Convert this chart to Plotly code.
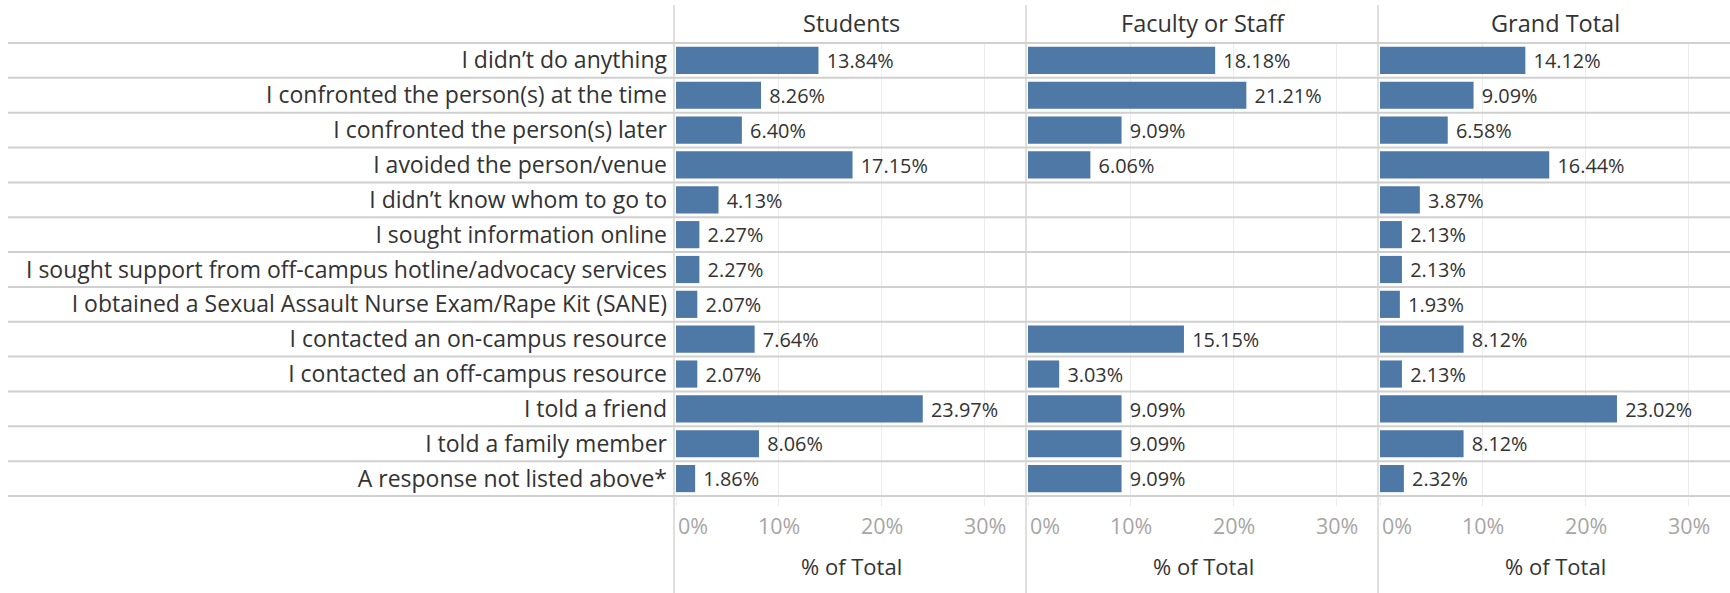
import plotly.graph_objects as go

categories = [
    "I didn’t do anything",
    "I confronted the person(s) at the time",
    "I confronted the person(s) later",
    "I avoided the person/venue",
    "I didn’t know whom to go to",
    "I sought information online",
    "I sought support from off-campus hotline/advocacy services",
    "I obtained a Sexual Assault Nurse Exam/Rape Kit (SANE)",
    "I contacted an on-campus resource",
    "I contacted an off-campus resource",
    "I told a friend",
    "I told a family member",
    "A response not listed above*",
]
students = [13.84, 8.26, 6.40, 17.15, 4.13, 2.27, 2.27, 2.07, 7.64, 2.07, 23.97, 8.06, 1.86]
faculty = [18.18, 21.21, 9.09, 6.06, None, None, None, None, 15.15, 3.03, 9.09, 9.09, 9.09]
grand_total = [14.12, 9.09, 6.58, 16.44, 3.87, 2.13, 2.13, 1.93, 8.12, 2.13, 23.02, 8.12, 2.32]
panel_titles = ["Students", "Faculty or Staff", "Grand Total"]
tick_vals = [0, 10, 20, 30]
tick_text = ["0%", "10%", "20%", "30%"]
axis_title = "% of Total"

W, H = 1730, 593
FONT = "Open Sans"
BAR = "#4e79a7"
TXT = "#333333"

def px_x(p):
    return p / W

def px_y(p):
    return 1 - p / H

dividers = [674, 1026, 1378]
domains = [(676, 1026), (1028, 1378), (1380, 1730)]
top_px, bottom_px = 42, 497
xrange_ = [0, 34.0]

fig = go.Figure()
series = [students, faculty, grand_total]
for i, vals in enumerate(series):
    suffix = "" if i == 0 else str(i + 1)
    fig.add_trace(go.Bar(
        x=vals, y=categories, orientation="h",
        marker=dict(color=BAR, line=dict(width=0)),
        texttemplate="\u00a0%{x:.2f}%",
        textposition="outside", cliponaxis=False,
        textfont=dict(family=FONT, size=20.5, color=TXT),
        xaxis="x" + suffix, yaxis="y" + suffix,
        hoverinfo="skip", showlegend=False,
    ))

layout = dict(
    width=W, height=H, margin=dict(l=0, r=0, t=0, b=0),
    plot_bgcolor="white", paper_bgcolor="white",
    bargap=0.22, font=dict(family=FONT, color=TXT),
    uniformtext=dict(minsize=8, mode="show"),
)
ydom = [px_y(bottom_px), px_y(top_px)]
for i in range(3):
    suffix = "" if i == 0 else str(i + 1)
    d0, d1 = domains[i]
    layout["xaxis" + suffix] = dict(
        domain=[px_x(d0), px_x(d1)], range=xrange_, anchor="y" + suffix,
        showgrid=True, gridcolor="#ececec", gridwidth=1,
        tickvals=tick_vals, showticklabels=False,
        ticks="outside", ticklen=8, tickcolor="#ececec",
        zeroline=False, showline=False, fixedrange=True,
    )
    layout["yaxis" + suffix] = dict(
        domain=ydom, anchor="x" + suffix,
        categoryorder="array", categoryarray=categories, autorange="reversed",
        showticklabels=(i == 0), ticks="", showgrid=False, zeroline=False,
        tickfont=dict(family=FONT, size=23, color=TXT),
        ticklabelstandoff=8, fixedrange=True,
    )
    if i > 0:
        layout["yaxis" + suffix]["matches"] = "y"
fig.update_layout(**layout)

shapes = []
n = len(categories)
for k in range(n + 1):
    shapes.append(dict(type="line", xref="paper", yref="y", x0=px_x(8), x1=1,
                       y0=k - 0.5, y1=k - 0.5, line=dict(color="#d0d0d0", width=2)))
for xd in dividers:
    shapes.append(dict(type="line", xref="paper", yref="paper", x0=px_x(xd), x1=px_x(xd),
                       y0=0, y1=px_y(5), line=dict(color="#d4d4d4", width=1.5)))
fig.update_layout(shapes=shapes)

ann = []
for i in range(3):
    suffix = "" if i == 0 else str(i + 1)
    d0, d1 = domains[i]
    ann.append(dict(text=panel_titles[i], xref="paper", yref="paper",
                    x=px_x((d0 + d1) / 2), y=px_y(23), showarrow=False,
                    xanchor="center", yanchor="middle",
                    font=dict(family=FONT, size=23.5, color=TXT)))
    ann.append(dict(text=axis_title, xref="paper", yref="paper",
                    x=px_x((d0 + d1) / 2), y=px_y(566), showarrow=False,
                    xanchor="center", yanchor="middle",
                    font=dict(family=FONT, size=22, color=TXT)))
    for tv, tt in zip(tick_vals, tick_text):
        ann.append(dict(text=tt, xref="x" + suffix, yref="paper", x=tv, y=px_y(525),
                        showarrow=False, xanchor="left" if tv == 0 else "center",
                        yanchor="middle",
                        font=dict(family=FONT, size=21.5, color="#a6a6a6")))
fig.update_layout(annotations=ann)

fig.write_html("out.html", config={"displayModeBar": False},
               post_script="document.body.style.margin='0';document.body.style.overflow='hidden';")
